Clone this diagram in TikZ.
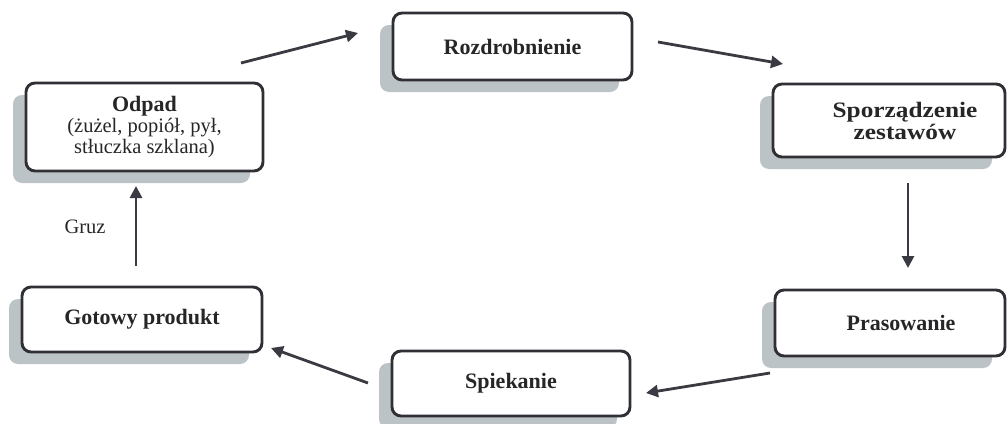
\documentclass[tikz,border=0pt]{standalone}
\usepackage{fontspec}
\setmainfont{Liberation Serif}
\usetikzlibrary{arrows.meta,shadows}
\definecolor{shadowgray}{HTML}{BCC3C7}
\definecolor{edgegray}{HTML}{2F2F35}
\definecolor{arrowgray}{HTML}{3A3B42}
\definecolor{textgray}{HTML}{262628}
\tikzset{
  x=1pt,y=-1pt,
  procbox/.style={draw=edgegray, line width=2.9pt, rounded corners=9pt, fill=white,
    align=center, inner sep=0pt, text=textgray, font=\fontsize{22}{22}\selectfont\bfseries,
    drop shadow={shadow xshift=-13pt, shadow yshift=-12pt, fill=shadowgray, opacity=1}},
  boxtext/.style={align=center, inner sep=0pt, text=textgray, font=\fontsize{22}{22}\selectfont\bfseries},
  flow/.style={draw=arrowgray, line width=2.8pt, -{Triangle[width=12pt,length=12pt]}},
  sub/.style={font=\fontsize{20.5}{21}\selectfont\mdseries}
}
\newcommand{\subtxt}[1]{{\fontsize{20.5}{21}\selectfont\mdseries #1}}
\newcommand{\widetxt}[1]{\scalebox{1.15}[1]{#1}}
\begin{document}
\begin{tikzpicture}
\useasboundingbox (0,0) rectangle (1008,423);
\node[procbox, minimum width=237pt, minimum height=88pt] (odpad) at (144.5,127)
  {Odpad\\[-1pt]\subtxt{(żużel, popiół, pył,}\\[-1pt]\subtxt{stłuczka szklana)}};
\node[procbox, minimum width=239pt, minimum height=67pt] (rozd) at (512.5,46.5) {Rozdrobnienie};
\node[procbox, minimum width=232pt, minimum height=73pt,
  label={[boxtext, xshift=16pt]center:\widetxt{Sporządzenie}\\\widetxt{zestawów}}] (spor) at (889,120.5) {};
\node[procbox, minimum width=230pt, minimum height=66pt,
  label={[boxtext, xshift=11pt]center:Prasowanie}] (pras) at (890,323) {};
\node[procbox, minimum width=238pt, minimum height=65pt] (spiek) at (511,383.5) {Spiekanie};
\node[procbox, minimum width=240pt, minimum height=65pt] (got) at (142,319.5) {Gotowy produkt};
\node[sub, text=textgray] (gruz) at (85,227) {Gruz};
% arrow ends
\coordinate (a1s) at (241,63);  \coordinate (a1e) at (358,33);
\coordinate (a2s) at (658,42);  \coordinate (a2e) at (783,64);
\coordinate (a3s) at (908,183); \coordinate (a3e) at (908,268);
\coordinate (a4s) at (770,373); \coordinate (a4e) at (646,393);
\coordinate (a5s) at (368,383); \coordinate (a5e) at (271,348);
\coordinate (a6s) at (136,266); \coordinate (a6e) at (136,186);
\draw[flow] (a1s) -- (a1e);
\draw[flow] (a2s) -- (a2e);
\draw[flow] (a3s) -- (a3e);
\draw[flow] (a4s) -- (a4e);
\draw[flow] (a5s) -- (a5e);
\draw[flow] (a6s) -- (a6e);
\end{tikzpicture}
\end{document}
